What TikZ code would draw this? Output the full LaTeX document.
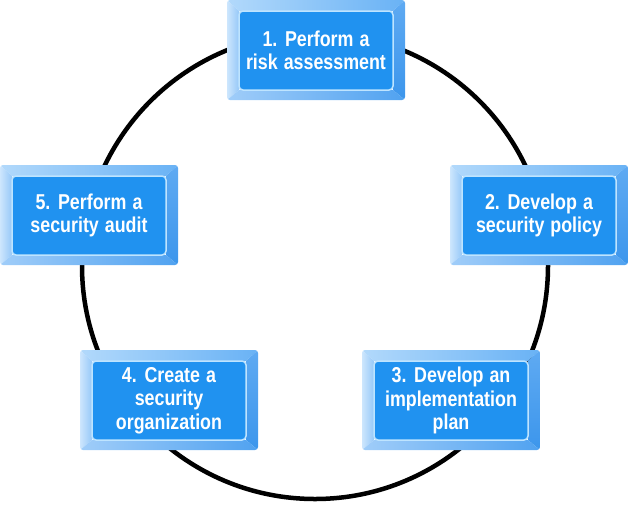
\documentclass[tikz,border=0pt]{standalone}
\usepackage{fontspec}
\newfontfamily\boxfont{Liberation Sans}[FakeStretch=0.83]
\newcommand{\boxtextfont}{\boxfont\bfseries\fontsize{21.5}{23.5}\selectfont\spaceskip=6pt plus 1pt minus 1pt\relax}
\definecolor{bevTopL}{RGB}{178,217,251}
\definecolor{bevTopR}{RGB}{105,178,245}
\definecolor{bevLeftL}{RGB}{205,230,253}
\definecolor{bevLeftR}{RGB}{150,200,248}
\definecolor{bevRightA}{RGB}{95,170,242}
\definecolor{bevRightB}{RGB}{60,150,236}
\definecolor{bevBotL}{RGB}{160,205,249}
\definecolor{bevBotR}{RGB}{80,162,240}
\definecolor{innerBlue}{RGB}{32,146,240}
\definecolor{innerEdge}{RGB}{190,228,255}
\tikzset{
  innerbox/.style={fill=innerBlue, draw=innerEdge, line width=1.5pt, rounded corners=4pt,
    minimum width=154pt, minimum height=79pt, text=white, align=center, inner sep=0pt,
    font=\boxtextfont},
  ringline/.style={draw=black, line width=4.5pt}
}
\newcommand{\bevelbox}[4]{%
  \begin{scope}[shift={(#2,#3)}]
    \begin{scope}
      \clip[rounded corners=3pt] (0,0) rectangle (178,100);
      \shade[left color=bevTopL, right color=bevTopR] (0,0) -- (178,0) -- (166,11) -- (12,11) -- cycle;
      \shade[left color=bevLeftL, right color=bevLeftR] (0,0) -- (12,11) -- (12,90) -- (0,100) -- cycle;
      \shade[top color=bevRightA, bottom color=bevRightB] (178,0) -- (178,100) -- (166,90) -- (166,11) -- cycle;
      \shade[left color=bevBotL, right color=bevBotR] (0,100) -- (178,100) -- (166,90) -- (12,90) -- cycle;
    \end{scope}
    \node[innerbox] (#1) at (89,50.5) {#4};
  \end{scope}}
\begin{document}
\begin{tikzpicture}[x=1pt, y=-1pt]
  \useasboundingbox (0,0) rectangle (629,504);
  \draw[ringline] (315,266) circle[radius=233pt];
  \bevelbox{s1}{227}{0}{1. Perform a\\risk assessment}
  \bevelbox{s2}{450}{165}{2. Develop a\\security policy}
  \bevelbox{s3}{362}{350}{3. Develop an\\implementation\\plan}
  \bevelbox{s4}{80}{350}{4. Create a\\security\\organization}
  \bevelbox{s5}{0}{165}{5. Perform a\\security audit}
\end{tikzpicture}
\end{document}
